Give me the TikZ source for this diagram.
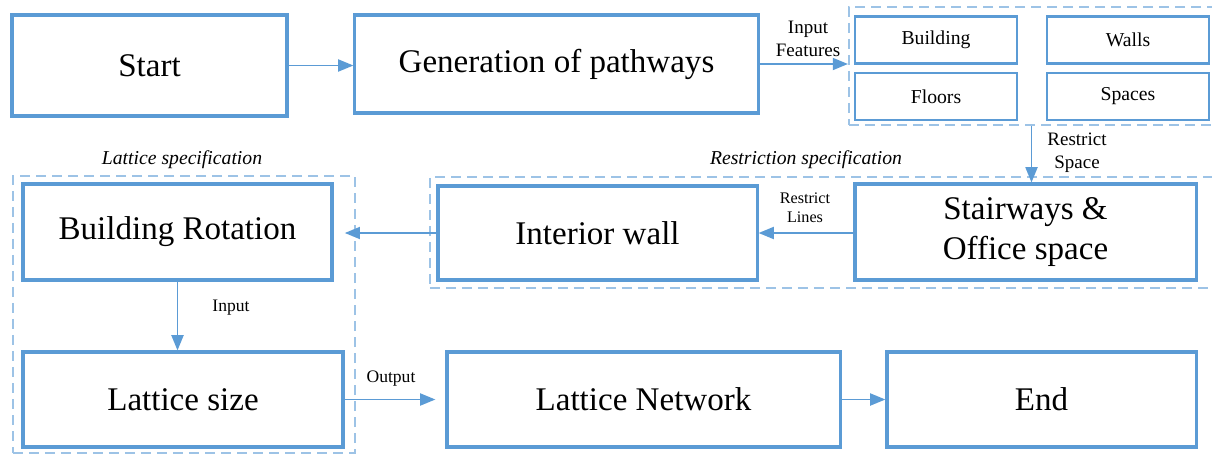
\documentclass[tikz,border=0pt]{standalone}
\usepackage{fontspec}
\setmainfont{Liberation Serif}
\usetikzlibrary{arrows.meta}

\definecolor{boxblue}{HTML}{5B9BD5}
\definecolor{dashblue}{HTML}{9DC3E6}

\tikzset{
  bigbox/.style={draw=boxblue, line width=2.2pt, minimum height=2.4cm, font=\fontsize{23.5}{28.5}\selectfont},
  smallbox/.style={draw=boxblue, line width=2pt, minimum width=4.05cm, minimum height=1.175cm, font=\fontsize{14}{16}\selectfont},
  groupbox/.style={draw=dashblue, line width=1.4pt, dash pattern=on 0.25cm off 0.15cm},
  link/.style={draw=boxblue, line width=1.3pt, -{Triangle[length=0.38cm,width=0.3cm]}},
  note/.style={align=center, font=\fontsize{13.5}{16.4}\selectfont},
}

\begin{document}
\begin{tikzpicture}[x=0.025cm, y=-0.025cm]
  \useasboundingbox (0,0) rectangle (1212,455);

  % Groups (dashed)
  \node[groupbox, minimum width=9.125cm, minimum height=2.95cm] (features) at (1031.5,66) {};
  \node[groupbox, minimum width=19.6cm, minimum height=2.775cm] (restrict) at (822,232.5) {};
  \node[groupbox, minimum width=8.55cm, minimum height=6.925cm] (lattice) at (184,314.5) {};

  % Group titles
  \node[note, font=\fontsize{14}{16}\selectfont\itshape] (lattitle) at (182,160) {Lattice specification};
  \node[note, font=\fontsize{14}{16}\selectfont\itshape] (restitle) at (806,160) {Restriction specification};

  % Top row
  \node[bigbox, minimum width=6.875cm, minimum height=2.525cm] (start) at (149.5,65.5) {Start};
  \node[bigbox, minimum width=10.075cm, minimum height=2.45cm] (pathways) at (556.5,64) {Generation of pathways};

  % Input features
  \node[smallbox] (building) at (936,40) {Building};
  \node[smallbox] (floors) at (936,96.5) {Floors};
  \node[smallbox] (walls) at (1128,40) {Walls};
  \node[smallbox] (spaces) at (1128,96.5) {Spaces};

  % Restriction row
  \node[bigbox, minimum width=8.525cm, align=center] (stairs) at (1025.5,232) {Stairways \&\\Office space};
  \node[bigbox, minimum width=7.975cm, minimum height=2.35cm] (interior) at (597.5,233) {Interior wall};

  % Lattice boxes
  \node[bigbox, minimum width=7.725cm] (rotation) at (177.5,232) {Building Rotation};
  \node[bigbox, minimum width=8cm, minimum height=2.375cm] (latsize) at (183,399.5) {Lattice size};

  % Bottom row
  \node[bigbox, minimum width=9.825cm, minimum height=2.375cm] (network) at (643.5,399.5) {Lattice Network};
  \node[bigbox, minimum width=7.725cm, minimum height=2.375cm] (finish) at (1041.5,399.5) {End};

  % Connectors
  \draw[link] (start.east) -- (start.east -| pathways.west);
  \draw[link] (pathways.east) -- (pathways.east -| features.west);
  \node[note] (inlabel) at (808,39) {Input\\Features};
  \draw[link] (features.south) -- (features.south |- stairs.north);
  \node[note] (splabel) at (1077,153) {Restrict\\Space};
  \draw[link] (interior.east -| stairs.west) -- (interior.east);
  \node[note, font=\fontsize{11.5}{13.5}\selectfont] (lnlabel) at (805,208) {Restrict\\Lines};
  \draw[link, shorten >=0.28cm] (interior.west) -- (interior.west -| rotation.east);
  \draw[link] (rotation.south) -- (rotation.south |- latsize.north);
  \node[note, font=\fontsize{12.5}{15}\selectfont] (inputlabel) at (231,308) {Input};
  \draw[link, shorten >=0.25cm] (latsize.east) -- (network.west);
  \node[note, font=\fontsize{12.5}{15}\selectfont] (outlabel) at (391,379) {Output};
  \draw[link] (network.east) -- (finish.west);
\end{tikzpicture}
\end{document}
